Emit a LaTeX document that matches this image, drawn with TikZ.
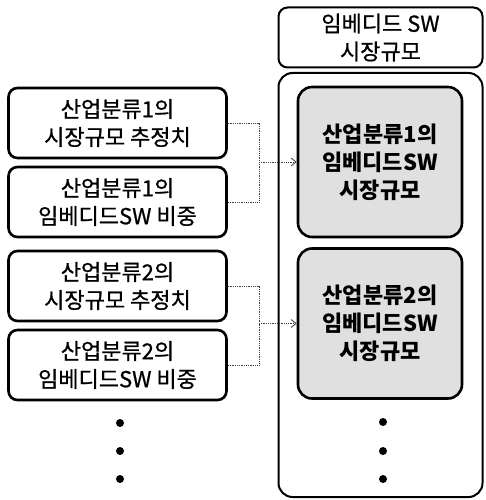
\documentclass[tikz,border=0pt]{standalone}
\usepackage{fontspec}
\setmainfont{Noto Sans CJK KR}[UprightFeatures={FakeBold=0.8}]
\usetikzlibrary{arrows.meta}
\begin{document}
\begin{tikzpicture}[x=1pt,y=-1pt,
  srcbox/.style={draw=black,line width=2.6pt,rounded corners=9pt,minimum width=218pt,minimum height=70pt,align=center,font=\fontsize{22}{28}\selectfont,inner sep=0pt},
  titlebox/.style={draw=black,line width=2pt,rounded corners=9pt,minimum width=204pt,minimum height=60pt,align=center,font=\fontsize{22}{28}\selectfont,inner sep=0pt},
  outerbox/.style={draw=black,line width=2pt,rounded corners=14pt,minimum width=204pt,minimum height=424pt,inner sep=0pt},
  resbox/.style={draw=black,line width=2.6pt,rounded corners=14pt,fill=black!12,minimum width=164pt,minimum height=150pt,align=center,font=\fontsize{22}{28}\selectfont\bfseries,inner sep=0pt},
  link/.style={densely dotted,line width=0.8pt,black!75},
  arr/.style={link,-{Straight Barb[length=5pt,width=8pt]}},
  dot/.style={circle,fill=black,inner sep=0pt,minimum size=8pt}
]
\useasboundingbox (0,0) rectangle (486,500);
% left sources
\node[srcbox] (a1) at (117.5,123) {산업분류1의\\시장규모 추정치};
\node[srcbox] (b1) at (117.5,202) {산업분류1의\\임베디드SW 비중};
\node[srcbox] (a2) at (117.5,286) {산업분류2의\\시장규모 추정치};
\node[srcbox] (b2) at (117.5,365) {산업분류2의\\임베디드SW 비중};
\node[dot] (l1) at (120,423) {};
\node[dot] (l2) at (120,451) {};
\node[dot] (l3) at (120,479) {};
% right side
\node[titlebox] (t) at (380.5,37.5) {임베디드 SW\\시장규모};
\node[outerbox] (o) at (380.5,285) {};
\node[resbox] (r1) at (380,162) {산업분류1의\\임베디드SW\\시장규모};
\node[resbox] (r2) at (380,323.5) {산업분류2의\\임베디드SW\\시장규모};
\node[dot] (d1) at (383,422) {};
\node[dot] (d2) at (383,451) {};
\node[dot] (d3) at (383,479) {};
% connectors
\coordinate (j1) at (259,162);
\coordinate (j2) at (259,323.5);
\draw[link] (a1.east) -| (j1) |- (b1.east);
\draw[arr] (j1) -- (r1.west);
\draw[link] (a2.east) -| (j2) |- (b2.east);
\draw[arr] (j2) -- (r2.west);
\end{tikzpicture}
\end{document}
